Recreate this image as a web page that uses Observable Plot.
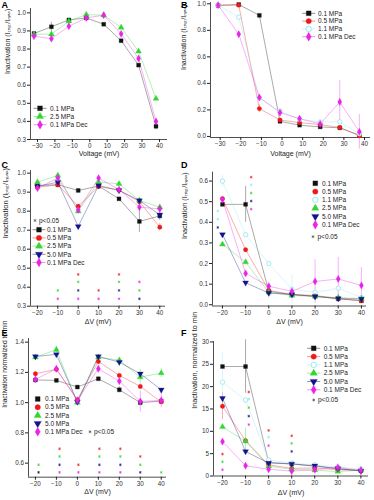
<!DOCTYPE html>
<html><head><meta charset="utf-8">
<script src="https://cdn.jsdelivr.net/npm/d3@7"></script>
<script src="https://cdn.jsdelivr.net/npm/@observablehq/plot@0.6"></script>
<style>
body{margin:0;background:#fff;}
#fig{position:relative;width:374px;height:500px;overflow:hidden;font-family:"Liberation Sans",Arial,sans-serif;}
#fig .panel{position:absolute;}
#overlay{position:absolute;left:0;top:0;pointer-events:none;}
</style></head><body><div id="fig"></div>
<script>
// ---------------- DATA ----------------
const SERIES = ["0.1 MPa","0.5 MPa","1.1 MPa","2.5 MPa","5.0 MPa","0.1 MPa Dec"];
const SIG_LABEL = "p<0.05";

// Panel A
const A_x   = [-32,-22,-12,-2,8,18,28,38];
const A_01  = [0.886,0.923,0.961,0.972,0.937,0.846,0.711,0.373];
const A_25  = [0.882,0.882,0.954,0.990,0.987,0.919,0.787,0.526];
const A_dec = [0.871,0.857,0.926,0.972,0.987,0.884,0.748,0.400];
const A_err = [["0.1 MPa",-22,0.025],["0.1 MPa",38,0.02]];

// Panel B
const B_x   = [-31,-21,-11,-1,8.5,18.5,28,37.5];
const B_01  = [0.988,0.995,0.913,0.114,0.085,0.072,0.065,0.010];
const B_05  = [0.990,0.990,0.210,0.124,0.104,0.090,0.067,0.005];
const B_11  = [0.990,0.900,0.290,0.190,0.130,0.110,0.110,0.020];
const B_dec = [0.990,0.771,0.294,0.180,0.134,0.095,0.260,0.035];
const B_err = [["0.1 MPa Dec",28,0.16],["0.5 MPa",-11,0.03],["0.1 MPa Dec",37.5,0.13]];

// Panel C
const C_x   = [-20,-10,0,10,20,30,40];
const C_01  = [0.935,0.939,0.909,0.932,0.865,0.746,0.775];
const C_05  = [0.925,0.939,0.826,0.930,0.910,0.850,0.716];
const C_25  = [0.953,0.988,0.800,0.953,0.944,0.856,0.821];
const C_50  = [0.930,0.953,0.720,0.935,0.910,0.856,0.781];
const C_dec = [0.921,0.974,0.807,0.974,0.914,0.821,0.812];
const C_err = [["0.1 MPa",30,0.058],["0.5 MPa",40,0.02],["5.0 MPa",40,0.03]];
const C_sig = [[0,0.467,"0.5 MPa"],[20,0.467,"0.5 MPa"],
  [0,0.428,"2.5 MPa"],[20,0.428,"2.5 MPa"],[30,0.428,"0.1 MPa Dec"],
  [-10,0.383,"2.5 MPa"],[0,0.383,"5.0 MPa"],[10,0.383,"0.5 MPa"],[20,0.383,"5.0 MPa"],[30,0.383,"2.5 MPa"],
  [-10,0.339,"0.1 MPa Dec"],[0,0.339,"0.1 MPa Dec"],[10,0.339,"0.1 MPa Dec"],[20,0.339,"0.1 MPa Dec"],[30,0.339,"5.0 MPa"]];

// Panel D
const D_x   = [-20,-10,0,10,20,30,40];
const D_01  = [0.487,0.487,0.065,0.049,0.042,0.029,0.019];
const D_05  = [0.515,0.267,0.070,0.050,0.045,0.030,0.020];
const D_11  = [0.600,0.340,0.200,0.075,0.060,0.080,0.035];
const D_25  = [0.293,0.207,0.060,0.045,0.040,0.035,0.030];
const D_50  = [0.341,0.107,0.057,0.050,0.040,0.030,0.028];
const D_dec = [0.510,0.152,0.090,0.065,0.113,0.125,0.094];
const D_err = [["0.1 MPa",-10,0.087],["0.1 MPa Dec",20,0.105],["0.1 MPa Dec",30,0.105],
  ["0.1 MPa Dec",40,0.086],["1.1 MPa",10,0.07],["1.1 MPa",-20,0.03]];
const D_sig = [[-7.6,0.619,"0.5 MPa"],[-7.6,0.582,"1.1 MPa"],[-7.6,0.542,"2.5 MPa"],[-7.6,0.503,"5.0 MPa"],[-7.6,0.464,"0.1 MPa Dec"],
  [-22,0.455,"1.1 MPa"],[-22,0.415,"1.1 MPa"],[-22,0.375,"5.0 MPa"]];

// Panel E
const E_x   = [-20,-10,0,10,20,30,40];
const E_01  = [1.150,1.147,1.103,1.158,1.085,1.000,1.010];
const E_05  = [1.191,1.220,1.020,1.272,1.180,1.107,1.005];
const E_25  = [1.300,1.350,1.000,1.300,1.280,1.169,1.195];
const E_50  = [1.305,1.319,1.005,1.305,1.268,1.191,1.085];
const E_dec = [1.153,1.224,1.015,1.224,1.142,1.008,1.015];
const E_err = [["2.5 MPa",30,0.05],["2.5 MPa",40,0.03],["0.1 MPa Dec",30,0.07],["0.1 MPa Dec",40,0.05],["0.1 MPa",20,0.02],["2.5 MPa",-10,0.02]];
const E_sig = [[-8.5,0.695,"0.5 MPa"],[10.5,0.695,"0.5 MPa"],[20.5,0.695,"0.5 MPa"],
  [-8.5,0.644,"2.5 MPa"],[10.5,0.644,"2.5 MPa"],[20.5,0.644,"2.5 MPa"],[30,0.644,"0.5 MPa"],
  [-18.5,0.589,"2.5 MPa"],[-8.5,0.589,"5.0 MPa"],[0.5,0.589,"0.5 MPa"],[10.5,0.589,"5.0 MPa"],[20.5,0.589,"5.0 MPa"],[30,0.589,"2.5 MPa"],
  [-18.5,0.539,"0.1 MPa"],[-8.5,0.539,"0.1 MPa Dec"],[0.5,0.539,"0.1 MPa Dec"],[10.5,0.539,"0.1 MPa Dec"],[20.5,0.539,"0.1 MPa Dec"],[30,0.539,"5.0 MPa"],[40,0.539,"2.5 MPa"]];

// Panel F
const F_x   = [-20,-10,0,10,20,30,40];
const F_01  = [24.5,24.5,3.05,2.7,2.2,1.6,1.2];
const F_05  = [15.6,7.9,2.5,1.7,1.8,1.4,1.2];
const F_11  = [21.0,17.0,3.6,2.9,2.5,2.0,1.6];
const F_25  = [11.0,7.8,2.2,1.5,1.3,1.0,1.3];
const F_50  = [17.4,5.5,2.9,2.7,2.3,1.7,1.1];
const F_dec = [7.7,2.3,1.5,1.1,1.4,1.9,1.3];
const F_err = [["0.1 MPa",-10,6.0],["1.1 MPa",-20,6.5],["0.5 MPa",-20,3.0],["2.5 MPa",-10,3.0],["0.1 MPa Dec",30,0.8]];
const F_sig = [[-8.6,18.8,"0.5 MPa"],[-8.6,17.2,"1.1 MPa"],[-8.6,15.3,"2.5 MPa"],[-8.6,13.4,"5.0 MPa"],[-8.6,11.5,"0.1 MPa Dec"],
  [0,10.2,"0.5 MPa"],[0,8.7,"1.1 MPa"],[0,6.8,"0.1 MPa Dec"],
  [10,9.0,"0.5 MPa"],[10,7.3,"2.5 MPa"],[10,5.5,"5.0 MPa"],
  [-20,4.9,"0.5 MPa"],[-20,3.2,"2.5 MPa"],[-20,1.4,"0.1 MPa Dec"]];

const YLAB_I = "Inactivation (I\u209c\u2091\u209b\u209c/I\u2098\u2090\u2093)";

// ---------------- STYLES ----------------
const triDown = {draw(c, s){const y=-Math.sqrt(s/(Math.sqrt(3)*3));c.moveTo(0,-2*y);c.lineTo(-Math.sqrt(3)*y,y);c.lineTo(Math.sqrt(3)*y,y);c.closePath();}};
const STYLE = {
  "0.1 MPa":     {color:"#111111", symbol:"square",   fill:true},
  "0.5 MPa":     {color:"#ee1a1a", symbol:"circle",   fill:true},
  "1.1 MPa":     {color:"#8fe6ef", symbol:"circle",   fill:false},
  "2.5 MPa":     {color:"#33d633", symbol:"triangle", fill:true},
  "5.0 MPa":     {color:"#14148a", symbol:triDown,    fill:true},
  "0.1 MPa Dec": {color:"#e824e8", symbol:"diamond",  fill:true}
};
const d3sym = {"square":d3.symbolSquare,"circle":d3.symbolCircle,"triangle":d3.symbolTriangle,"diamond":d3.symbolDiamond};

function tidy(x, pairs){
  const rows=[];
  for(const [name, vals] of pairs) vals.forEach((v,i)=>rows.push({series:name,x:x[i],y:v}));
  return rows;
}

const panels = [
 {left:0,top:0,w:187,h:165,mL:30,mR:20,mT:8,mB:26,xDom:[-34,44.6],yDom:[0.3,1.024],
  xTicks:d3.range(-30,41,10),yTicks:d3.range(3,11).map(d=>d/10),yFmt:d3.format(".1f"),
  ylabel:YLAB_I,ylfs:7,xlabel:"Voltage (mV)",ylx:-23,xly:16,
  rows:tidy(A_x,[["0.1 MPa",A_01],["2.5 MPa",A_25],["0.1 MPa Dec",A_dec]]),err:A_err,sig:[]},
 {left:172,top:0,w:202,h:165,mL:38,mR:4,mT:2,mB:28,xDom:[-34.7,42.9],yDom:[-0.008,1.01],
  xTicks:d3.range(-30,41,10),yTicks:[0,0.2,0.4,0.6,0.8,1.0],yFmt:d3.format(".1f"),
  ylabel:YLAB_I,ylfs:7,xlabel:"Voltage (mV)",ylx:-27,xly:18,
  rows:tidy(B_x,[["0.1 MPa",B_01],["0.5 MPa",B_05],["1.1 MPa",B_11],["0.1 MPa Dec",B_dec]]),err:B_err,sig:[]},
 {left:0,top:160,w:187,h:175,mL:30,mR:22,mT:10,mB:29.3,xDom:[-23.4,42.8],yDom:[0.3,1.014],
  xTicks:d3.range(-20,41,10),yTicks:d3.range(3,11).map(d=>d/10),yFmt:d3.format(".1f"),
  ylabel:YLAB_I,ylfs:7.5,xlabel:"\u0394V (mV)",ylx:-25,xly:18,
  rows:tidy(C_x,[["0.1 MPa",C_01],["0.5 MPa",C_05],["2.5 MPa",C_25],["5.0 MPa",C_50],["0.1 MPa Dec",C_dec]]),err:C_err,sig:C_sig},
 {left:172,top:160,w:202,h:175,mL:40,mR:8,mT:11.7,mB:29.5,xDom:[-24.3,42.2],yDom:[-0.006,0.643],
  xTicks:d3.range(-20,41,10),yTicks:d3.range(0,7).map(d=>d/10),yFmt:d3.format(".1f"),
  ylabel:YLAB_I,ylfs:7.2,xlabel:"\u0394V (mV)",ylx:-28,xly:18,
  rows:tidy(D_x,[["0.1 MPa",D_01],["0.5 MPa",D_05],["1.1 MPa",D_11],["2.5 MPa",D_25],["5.0 MPa",D_50],["0.1 MPa Dec",D_dec]]),err:D_err,sig:D_sig},
 {left:0,top:330,w:187,h:170,mL:28,mR:21,mT:8,mB:23.3,xDom:[-23.3,42.5],yDom:[0.507,1.424],
  xTicks:d3.range(-20,41,10),yTicks:[0.6,0.8,1.0,1.2,1.4],yFmt:d3.format(".1f"),
  ylabel:"Inactivation normalized to min",ylfs:6.6,xlabel:"\u0394V (mV)",ylx:-24,xly:17,
  rows:tidy(E_x,[["0.1 MPa",E_01],["0.5 MPa",E_05],["2.5 MPa",E_25],["5.0 MPa",E_50],["0.1 MPa Dec",E_dec]]),err:E_err,sig:E_sig},
 {left:172,top:330,w:202,h:170,mL:41,mR:6,mT:11,mB:24.5,xDom:[-23.9,43.3],yDom:[0,30.1],
  xTicks:d3.range(-20,41,10),yTicks:d3.range(0,31,5),yFmt:d3.format("d"),
  ylabel:"Inactivation, normalized to min",ylfs:7.2,xlabel:"\u0394V (mV)",ylx:-19,xly:18.5,
  rows:tidy(F_x,[["0.1 MPa",F_01],["0.5 MPa",F_05],["1.1 MPa",F_11],["2.5 MPa",F_25],["5.0 MPa",F_50],["0.1 MPa Dec",F_dec]]),err:F_err,sig:F_sig}
];

const fig = document.getElementById("fig");
const AX = "#222";

for (const p of panels){
  const marks = [
    Plot.ruleY([p.yDom[0]],{stroke:AX,strokeWidth:0.8}),
    Plot.ruleX([p.xDom[0]],{stroke:AX,strokeWidth:0.8}),
    Plot.axisX({ticks:p.xTicks,tickSize:3,tickPadding:1.5,label:null,fontSize:6.3,stroke:AX,fill:"#333"}),
    Plot.axisY({ticks:p.yTicks,tickSize:3,tickPadding:1.5,label:null,tickFormat:p.yFmt,fontSize:6.3,stroke:AX,fill:"#333"}),
    Plot.text([p.ylabel],{text:d=>d,frameAnchor:"left",rotate:-90,dx:p.ylx,fontSize:p.ylfs,fill:"#222"}),
    Plot.text([p.xlabel],{text:d=>d,frameAnchor:"bottom",dy:p.xly,fontSize:7,fill:"#222"})
  ];
  // error bars
  const errRows = p.err.map(([s,x,e])=>{const r=p.rows.find(d=>d.series===s&&d.x===x);return {series:s,x,y1:r.y-e,y2:r.y+e};});
  for (const s of SERIES){
    const er = errRows.filter(d=>d.series===s);
    if(er.length){
      marks.push(Plot.ruleX(er,{x:"x",y1:"y1",y2:"y2",stroke:STYLE[s].color,strokeWidth:0.6,strokeOpacity:0.6}));
    }
  }
  for (const s of SERIES){
    const rs = p.rows.filter(d=>d.series===s);
    if(!rs.length) continue;
    marks.push(Plot.line(rs,{x:"x",y:"y",stroke:STYLE[s].color,strokeWidth:0.8,strokeOpacity:0.45}));
  }
  // significance asterisks
  for (const s of SERIES){
    const ss = p.sig.filter(d=>d[2]===s).map(d=>({x:d[0],y:d[1]}));
    if(ss.length) marks.push(Plot.dot(ss,{x:"x",y:"y",symbol:"asterisk",r:1.3,stroke:STYLE[s].color,strokeWidth:0.8,strokeOpacity:0.8}));
  }
  for (const s of SERIES){
    const rs = p.rows.filter(d=>d.series===s);
    if(!rs.length) continue;
    const st = STYLE[s];
    marks.push(Plot.dot(rs,{x:"x",y:"y",symbol:st.symbol,r:2.2,
      fill: st.fill?st.color:"white", stroke: st.color, strokeWidth: st.fill?0.3:0.8}));
  }
  const svg = Plot.plot({
    width:p.w,height:p.h,marginLeft:p.mL,marginRight:p.mR,marginTop:p.mT,marginBottom:p.mB,
    style:{fontFamily:"'Liberation Sans', Arial, sans-serif",background:"transparent",overflow:"visible"},
    x:{domain:p.xDom},y:{domain:p.yDom},
    marks
  });
  const div = document.createElement("div");
  div.className="panel";
  div.style.left=p.left+"px";div.style.top=p.top+"px";
  div.appendChild(svg);
  fig.appendChild(div);
}

// ---------------- legends & panel letters ----------------
const ov = d3.select(fig).append("svg").attr("id","overlay").attr("width",374).attr("height",500)
  .style("font-family","'Liberation Sans', Arial, sans-serif");

const letters = [["A",1.5,7.5],["B",181,7.5],["C",1.5,167.5],["D",181,167.5],["E",1.5,335.5],["F",181,335.5]];
for (const [t,x,y] of letters) ov.append("text").attr("x",x).attr("y",y).attr("font-size",9).attr("font-weight","bold").text(t);

function legend(names, x, tx, y0, step, withLine, sig){
  names.forEach((n,i)=>{
    const y=y0+i*step, st=STYLE[n];
    if(withLine) ov.append("line").attr("x1",x-6.5).attr("x2",x+6.5).attr("y1",y).attr("y2",y).attr("stroke",st.color).attr("stroke-opacity",0.6).attr("stroke-width",0.8);
    const type = typeof st.symbol==="string"?d3sym[st.symbol]:st.symbol;
    ov.append("path").attr("transform",`translate(${x},${y})`).attr("d",d3.symbol(type,2.7*2.7*Math.PI)())
      .attr("fill",st.fill?st.color:"white").attr("stroke",st.color).attr("stroke-width",st.fill?0.3:0.9);
    ov.append("text").attr("x",tx).attr("y",y).attr("dy","0.35em").attr("font-size",6.5).attr("fill","#222").text(n);
  });
  if(sig){
    ov.append("path").attr("transform",`translate(${sig[0]},${sig[2]})`).attr("d",d3.symbol(d3.symbolAsterisk,6)())
      .attr("stroke","#555").attr("stroke-width",0.7);
    ov.append("text").attr("x",sig[1]).attr("y",sig[2]).attr("dy","0.35em").attr("font-size",6.5).attr("fill","#222").text(SIG_LABEL);
  }
}
legend(["0.1 MPa","2.5 MPa","0.1 MPa Dec"],40,50,108.3,8.2,true);
legend(["0.1 MPa","0.5 MPa","1.1 MPa","0.1 MPa Dec"],308.7,318,13.3,7.8,true);
legend(["0.1 MPa","0.5 MPa","2.5 MPa","5.0 MPa","0.1 MPa Dec"],39,47,229.7,8.2,true,[35,39,220.5]);
legend(["0.1 MPa","0.5 MPa","1.1 MPa","2.5 MPa","5.0 MPa","0.1 MPa Dec"],315.3,322,183.3,8.3,false,[313,317.5,236.7]);
legend(["0.1 MPa","0.5 MPa","2.5 MPa","5.0 MPa","0.1 MPa Dec"],37.7,45,399,8.2,false,[90,94,431.8]);
legend(["0.1 MPa","0.5 MPa","1.1 MPa","2.5 MPa","5.0 MPa","0.1 MPa Dec"],313.7,323.7,348.3,8.3,true,[313.7,318,400]);
</script></body></html>
